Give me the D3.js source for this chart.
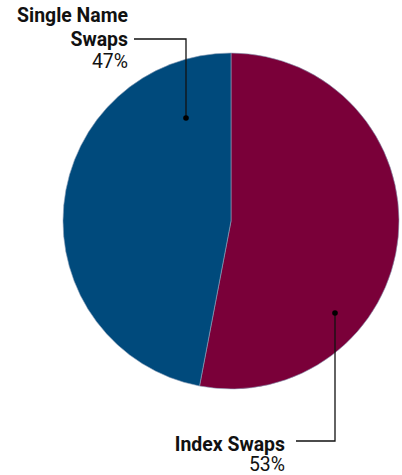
<!DOCTYPE html>
<html><head><meta charset="utf-8">
<script src="https://cdn.jsdelivr.net/npm/d3@7"></script>
<style>
body{margin:0;background:#fff;}
text{font-family:Roboto,sans-serif;fill:#111;}
</style></head>
<body>
<svg id="c" width="402" height="475"></svg>
<script>
const categories = ["Index Swaps", "Single Name Swaps"];
const values = [53, 47];
const labels = ["53%", "47%"];
const colors = ["#7a0039", "#004a7c"];

const svg = d3.select("#c");
const cx = 231, cy = 221, r = 168;
const g = svg.append("g").attr("transform", `translate(${cx},${cy})`);
const pie = d3.pie().sort(null).value(d => d)(values);
const arc = d3.arc().innerRadius(0).outerRadius(r);
g.selectAll("path").data(pie).join("path")
  .attr("d", arc)
  .attr("fill", (d, i) => colors[i])
  .attr("stroke", "#8da0b8").attr("stroke-width", 0.6);

const ln = svg.append("g").attr("stroke", "#111").attr("stroke-width", 1.3).attr("fill", "none");
ln.append("path").attr("d", "M134,39H186V118");
ln.append("path").attr("d", "M296,441H335V313");
svg.append("circle").attr("cx", 186).attr("cy", 118).attr("r", 2.8).attr("fill", "#000");
svg.append("circle").attr("cx", 335).attr("cy", 313).attr("r", 2.8).attr("fill", "#000");

function lab(x, lines) {
  const t = svg.append("text").attr("text-anchor", "end")
    .attr("transform", `translate(${x},0) scale(0.925,1)`);
  lines.forEach(l => t.append("tspan").attr("x", 0).attr("y", l.y)
    .attr("font-size", 21).attr("font-weight", l.bold ? "bold" : "normal")
    .text(l.s));
}
lab(128, [{s: "Single Name", y: 22, bold: true}, {s: "Swaps", y: 46, bold: true}, {s: labels[1], y: 68}]);
lab(285, [{s: categories[0], y: 451, bold: true}, {s: labels[0], y: 471}]);
</script>
</body></html>
